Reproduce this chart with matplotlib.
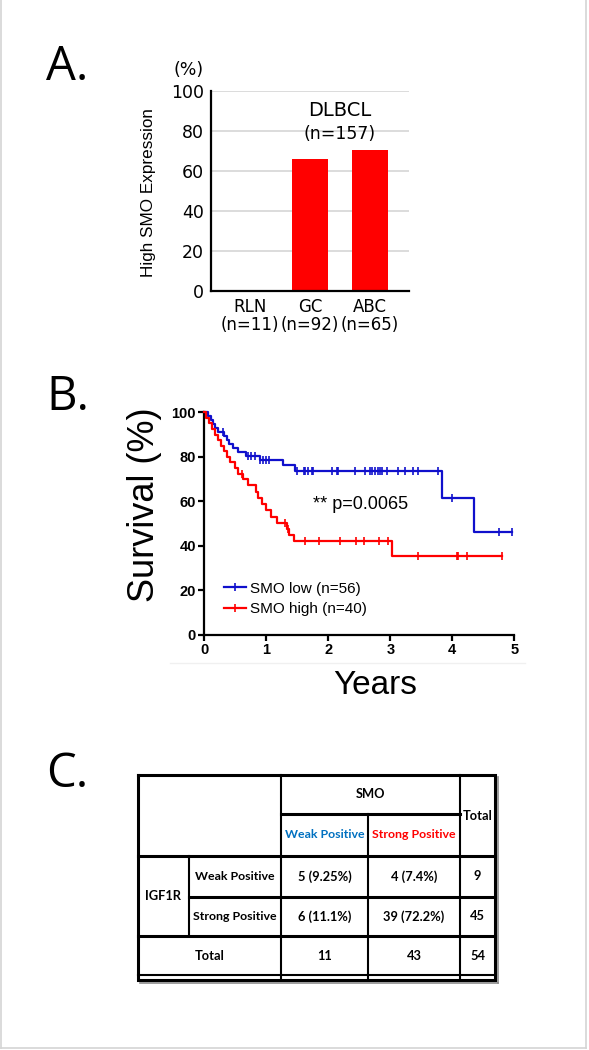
import numpy as np
import matplotlib
matplotlib.use("Agg")
import matplotlib.pyplot as plt
from matplotlib.lines import Line2D

# ---------------- data ----------------
# Panel A
bar_categories = ["RLN", "GC", "ABC"]
bar_n_labels = ["(n=11)", "(n=92)", "(n=65)"]
bar_values = [0, 66, 70.5]
bar_yticks = [0, 20, 40, 60, 80, 100]

# Panel B (Kaplan-Meier)
low_event_times = [0.06, 0.10, 0.14, 0.17, 0.22, 0.32, 0.37, 0.40, 0.46, 0.55, 0.68, 0.90, 1.27, 1.47, 3.83, 4.35]
low_event_surv = [98.2, 96.4, 94.6, 92.8, 91.0, 89.2, 87.4, 85.7, 83.9, 82.1, 80.3, 78.5, 76.2, 73.8, 61.5, 46.1]
low_censor_times = [0.30, 0.71, 0.76, 0.81, 0.90, 0.94, 0.99, 1.05, 1.50, 1.60, 1.63, 1.67, 1.73, 1.76, 2.06,
                    2.14, 2.15, 2.43, 2.59, 2.67, 2.71, 2.75, 2.80, 2.83, 2.86, 2.94, 3.12, 3.24, 3.37, 3.45,
                    3.77, 4.00, 4.75, 4.96]
low_end_time = 4.96

high_event_times = [0.03, 0.08, 0.13, 0.18, 0.22, 0.27, 0.32, 0.37, 0.42, 0.49, 0.55, 0.63, 0.70, 0.83, 0.87,
                    0.93, 1.00, 1.08, 1.17, 1.33, 1.36, 1.45, 3.03]
high_event_surv = [97.5, 95.0, 92.5, 90.0, 87.5, 85.0, 82.5, 80.0, 77.5, 75.0, 72.5, 70.0, 67.2, 64.4, 61.6,
                   58.8, 56.0, 53.2, 50.4, 47.5, 45.0, 42.4, 35.3]
high_censor_times = [0.60, 1.30, 1.35, 1.63, 1.85, 2.19, 2.45, 2.58, 2.82, 2.97, 3.45, 4.08, 4.10, 4.23, 4.80]
high_end_time = 4.80

km_labels = ["SMO low (n=56)", "SMO high (n=40)"]
km_xticks = [0, 1, 2, 3, 4, 5]
km_yticks = [0, 20, 40, 60, 80, 100]
p_text = "** p=0.0065"

# Panel C (table)
smo_levels = ["Weak Positive", "Strong Positive"]
igf1r_levels = ["Weak Positive", "Strong Positive"]
cell_text = [["5 (9.25%)", "4 (7.4%)"], ["6 (11.1%)", "39 (72.2%)"]]
row_totals = ["9", "45"]
col_totals = ["11", "43"]
grand_total = "54"

# ---------------- figure ----------------
W, H = 589, 1050
fig = plt.figure(figsize=(W / 100, H / 100), dpi=100)


def fx(px):
    return px / W


def fy(py):
    return 1 - py / H


# overlay axes in pixel coordinates for decorations / table
ov = fig.add_axes([0, 0, 1, 1])
ov.set_xlim(0, W)
ov.set_ylim(H, 0)
ov.axis("off")

# page border (light grey)
ov.plot([1, 1], [0, 1048], color="#d4d4d4", lw=1.2)
ov.plot([586, 586], [0, 1048], color="#d4d4d4", lw=1.2)
ov.plot([1, 586], [1048, 1048], color="#d4d4d4", lw=1.2)

label_font = dict(family="Open Sans", fontsize=34, color="black")
fig.text(fx(46), fy(80), "A.", ha="left", va="baseline", **label_font)
fig.text(fx(46), fy(410), "B.", ha="left", va="baseline", **label_font)
fig.text(fx(46), fy(787), "C.", ha="left", va="baseline", **label_font)

# ---------------- Panel A ----------------
axA = fig.add_axes([fx(211), fy(291), fx(409) - fx(211), (291 - 91) / H])
xpos = np.arange(len(bar_categories))
axA.bar(xpos, bar_values, width=0.6, color="#ff0000", zorder=3)
axA.set_xlim(-0.65, 2.65)
axA.set_ylim(0, 100)
axA.set_yticks(bar_yticks)
axA.set_yticklabels([str(v) for v in bar_yticks], fontsize=12.5, family="DejaVu Sans")
axA.set_xticks(xpos)
axA.set_xticklabels([f"{c}\n{n}" for c, n in zip(bar_categories, bar_n_labels)],
                    fontsize=12, family="DejaVu Sans", linespacing=1.0)
axA.tick_params(axis="both", length=0, pad=5)
axA.yaxis.grid(True, color="#d9d9d9", lw=1.3, zorder=0)
for s in ["top", "right"]:
    axA.spines[s].set_visible(False)
for s in ["left", "bottom"]:
    axA.spines[s].set_linewidth(1.6)
    axA.spines[s].set_zorder(4)
axA.text(1.5, 90.5, "DLBCL", ha="center", va="center", fontsize=14, family="DejaVu Sans")
axA.text(1.5, 78.5, "(n=157)", ha="center", va="center", fontsize=12.5, family="DejaVu Sans")
fig.text(fx(189), fy(70), "(%)", ha="center", va="center", fontsize=12.5, family="DejaVu Sans")
fig.text(fx(148), fy(193), "High SMO Expression", ha="center", va="center", rotation=90,
         fontsize=12.3, family="Liberation Sans")

# ---------------- Panel B ----------------
axB = fig.add_axes([fx(204.3), fy(635), fx(514.3) - fx(204.3), (635 - 412.3) / H])
blue = "#1010cc"
red = "#ff0000"


def km_curve(ev_t, ev_s, end_t):
    x = np.concatenate([[0.0], ev_t, [end_t]])
    y = np.concatenate([[100.0], ev_s, [ev_s[-1]]])
    return x, y


def surv_at(ev_t, ev_s, t):
    idx = np.searchsorted(np.asarray(ev_t), np.asarray(t), side="right")
    s = np.concatenate([[100.0], ev_s])
    return s[idx]


for ev_t, ev_s, end_t, c_t, col in [
    (low_event_times, low_event_surv, low_end_time, low_censor_times, blue),
    (high_event_times, high_event_surv, high_end_time, high_censor_times, red),
]:
    x, y = km_curve(ev_t, ev_s, end_t)
    axB.step(x, y, where="post", color=col, lw=1.6, clip_on=False, zorder=3)
    axB.plot(c_t, surv_at(ev_t, ev_s, c_t), linestyle="none", marker="|", markersize=6,
             markeredgewidth=1.2, color=col, clip_on=False, zorder=3)

handles = [Line2D([], [], color=blue, lw=1.6, marker="|", markersize=6, markeredgewidth=1.2),
           Line2D([], [], color=red, lw=1.6, marker="|", markersize=6, markeredgewidth=1.2)]
leg = axB.legend(handles, km_labels, loc="upper left", bbox_to_anchor=(0.065, 0.24), frameon=False,
                 prop={"family": "Liberation Sans", "size": 11}, handlelength=1.4, handletextpad=0.3,
                 borderpad=0, borderaxespad=0, labelspacing=0.45, numpoints=1)
axB.text(2.52, 58.5, p_text, ha="center", va="center", fontsize=13, family="Liberation Sans")

axB.set_xlim(0, 5)
axB.set_ylim(0, 100)
axB.set_xticks(km_xticks)
axB.set_yticks(km_yticks)
axB.set_xticklabels([str(v) for v in km_xticks], fontsize=10.5, fontweight="bold", family="Liberation Sans")
axB.set_yticklabels([str(v) for v in km_yticks], fontsize=10.5, fontweight="bold", family="Liberation Sans")
axB.tick_params(axis="both", length=4, width=1.6, direction="out", pad=2)
for s in ["top", "right"]:
    axB.spines[s].set_visible(False)
for s in ["left", "bottom"]:
    axB.spines[s].set_linewidth(1.6)
fig.text(fx(145), fy(505), "Survival (%)", ha="center", va="center", rotation=90,
         fontsize=26, family="Liberation Sans")
fig.text(fx(375), fy(686), "Years", ha="center", va="center", fontsize=24, family="Liberation Sans")
ov.plot([170, 525], [663, 663], color="#f0f0f0", lw=1.0)

# ---------------- Panel C (table) ----------------
tprops = dict(family="Lato", fontweight="bold")
short_size = 9.3

L, R, T, B = 138, 495, 775, 980
c1, c2, c3, c4 = 189, 281, 368, 460
r_smo, r_head, r1, r2, r3 = 814, 856, 897, 936, 975

k = "black"
thick, thin = 2.2, 1.5
# shadow
ov.plot([R + 2.5, R + 2.5], [T + 2, B + 2.5], color="#8c8c8c", lw=1.2)
ov.plot([L + 2, R + 2.5], [B + 2.5, B + 2.5], color="#8c8c8c", lw=1.2)
# outer border
ov.plot([L, R, R, L, L], [T, T, B, B, T], color=k, lw=thick, solid_joinstyle="miter")
# horizontals
ov.plot([c2, c4], [r_smo, r_smo], color=k, lw=thick)
ov.plot([L, R], [r_head, r_head], color=k, lw=thick)
ov.plot([c1, R], [r1, r1], color=k, lw=thick)
ov.plot([L, R], [r2, r2], color=k, lw=thick)
ov.plot([L, R], [r3, r3], color=k, lw=thin)
# verticals
ov.plot([c1, c1], [r_head, r2], color=k, lw=thin)
ov.plot([c2, c2], [T, B], color=k, lw=thin)
ov.plot([c3, c3], [r_smo, B], color=k, lw=thin)
ov.plot([c4, c4], [T, B], color=k, lw=thin)

long_texts = []


def ttext(x, y, s, color="black", long=False):
    t = ov.text(x, y, s, ha="center", va="center", color=color, fontsize=short_size, **tprops)
    if long:
        long_texts.append(t)
    return t


ttext((c2 + c4) / 2, (T + r_smo) / 2, "SMO")
ttext((c2 + c3) / 2, (r_smo + r_head) / 2, smo_levels[0], color="#0070c0", long=True)
probe = ttext((c3 + c4) / 2, (r_smo + r_head) / 2, smo_levels[1], color="#ff0000", long=True)
ttext((c4 + R) / 2, (T + r_head) / 2, "Total")
ttext((L + c1) / 2, (r_head + r2) / 2, "IGF1R")
row_y = [(r_head + r1) / 2, (r1 + r2) / 2]
col_x = [(c2 + c3) / 2, (c3 + c4) / 2]
for i in range(2):
    ttext((c1 + c2) / 2, row_y[i], igf1r_levels[i], long=True)
    for j in range(2):
        ttext(col_x[j], row_y[i], cell_text[i][j])
    ttext((c4 + R) / 2, row_y[i], row_totals[i])
ttext((L + c2) / 2, (r2 + r3) / 2, "Total")
for j in range(2):
    ttext(col_x[j], (r2 + r3) / 2, col_totals[j])
ttext((c4 + R) / 2, (r2 + r3) / 2, grand_total)

# the long "Weak/Strong Positive" labels are sized so that they fill their cells (~84 px)
fig.canvas.draw()
renderer = fig.canvas.get_renderer()
wmax = probe.get_window_extent(renderer).width
long_size = min(short_size, short_size * 84.0 / wmax)
for t in long_texts:
    t.set_fontsize(long_size)

fig.savefig("out.png", dpi=100)
